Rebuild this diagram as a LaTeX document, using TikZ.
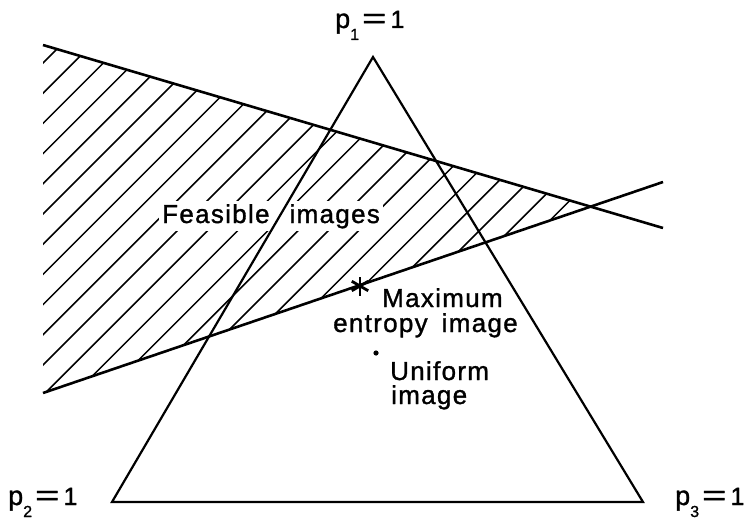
\documentclass[tikz,border=0pt]{standalone}
\usepackage{fontspec}
\setmainfont{Liberation Sans}[LetterSpace=5,FakeBold=1.2]
\usetikzlibrary{calc}
\newcommand{\cornerlbl}[1]{{\fontsize{27}{27}\selectfont p}\raisebox{-12pt}{\fontsize{16}{16}\selectfont #1}\hspace{3pt}\scalebox{1.9}[1.3]{\fontsize{22}{22}\selectfont=}\hspace{4pt}{\fontsize{25}{25}\selectfont 1}}

\begin{document}
\begin{tikzpicture}[x=1pt,y=-1pt,
bound/.style={line width=2.6pt,line cap=butt},
simplex/.style={line width=2.2pt,line join=miter},
hatch/.style={line width=1.5pt},
lbl/.style={font=\fontsize{26}{25}\selectfont,inner sep=0pt,anchor=base west}]
\useasboundingbox (0,0) rectangle (752,519);
% constraint lines and the simplex
\coordinate (A1) at (43,45);
\coordinate (A2) at (663,228);
\coordinate (B1) at (43,393);
\coordinate (B2) at (663,182);
\coordinate (X) at (intersection of A1--A2 and B1--B2);
\coordinate (P1) at (373,57);
\coordinate (P2) at (112,502);
\coordinate (P3) at (643,502);
\coordinate (maxent) at (360,286);
\coordinate (unif) at (376,353);
% feasible wedge
\begin{scope}
\clip (A1) -- (X) -- (B1) -- cycle;
\foreach \k in {0,...,23}
  \draw[hatch] ({106+30.2*\k-420},420) -- ({106+30.2*\k},0);
\end{scope}
\node[lbl,fill=white,inner sep=3pt] (feas) at (159,223) {Feasible\hspace{20pt}images};
\draw[bound] (A1) -- (A2);
\draw[bound] (B1) -- (B2);
\draw[simplex] (P1) -- (P2) -- (P3) -- cycle;
% points
\foreach \a in {90,30,150}
  \draw[line width=2.8pt] ($(maxent)+(\a:9.5)$) -- ($(maxent)-(\a:9.5)$);
\fill (unif) circle (2.6pt);
\node[lbl] (maxlbl) at (382,307) {Maximum};
\node[lbl] (entlbl) at (333,332) {entropy\hspace{14pt}image};
\node[lbl] (uniflbl) at (390,380) {Uniform};
\node[lbl] (imglbl) at (391,404) {image};
\node[inner sep=0pt,anchor=base west] (p1) at (335,28) {\cornerlbl{1}};
\node[inner sep=0pt,anchor=base west] (p2) at (8,505) {\cornerlbl{2}};
\node[inner sep=0pt,anchor=base west] (p3) at (675,505) {\cornerlbl{3}};
\end{tikzpicture}
\end{document}
